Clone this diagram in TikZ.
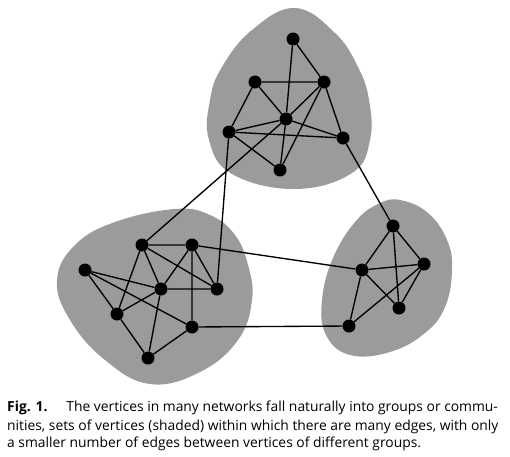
\documentclass[tikz,border=0pt]{standalone}
\usepackage{fontspec}
\newfontfamily\capfont{Open Sans}
\definecolor{blobgray}{RGB}{155,155,155}
\tikzset{
  vtx/.style={circle, fill=black, inner sep=0pt, minimum size=13pt},
  edge/.style={line width=1.35pt, black},
  blob/.style={fill=blobgray, draw=none},
  capline/.style={anchor=base west, inner sep=0pt, font=\capfont\fontsize{13.85}{18}\selectfont}
}
\begin{document}
\begin{tikzpicture}[x=1pt, y=-1pt]
\useasboundingbox (0,0) rectangle (510,456);
% blobs
\fill[blob] plot[smooth cycle, tension=0.7] coordinates {(295,8) (335,33) (358,67) (369,100) (370,140) (352,173) (295,189) (232,174) (209,140) (210,100) (222,67) (252,30)};
\fill[blob] plot[smooth cycle, tension=0.7] coordinates {(175,209) (210,215) (235,235) (248,265) (252,300) (238,340) (200,372) (150,384) (105,360) (70,320) (57,280) (75,245) (115,222)};
\fill[blob] plot[smooth cycle, tension=0.7] coordinates {(400,200) (428,213) (447,240) (452,270) (445,307) (425,333) (390,352) (350,355) (326,335) (322,300) (333,258) (355,222) (378,204)};
% top cluster
\node[vtx] (t1) at (293,39) {};
\node[vtx] (t2) at (255,82) {};
\node[vtx] (t3) at (324,82) {};
\node[vtx] (t4) at (286,119) {};
\node[vtx] (t5) at (229,132) {};
\node[vtx] (t6) at (343,138) {};
\node[vtx] (t7) at (280,170) {};
% left cluster
\node[vtx] (l1) at (142,245) {};
\node[vtx] (l2) at (192,245) {};
\node[vtx] (l3) at (85,270) {};
\node[vtx] (l4) at (161,289) {};
\node[vtx] (l5) at (217,289) {};
\node[vtx] (l6) at (117,314) {};
\node[vtx] (l7) at (192,327) {};
\node[vtx] (l8) at (148,358) {};
% right cluster
\node[vtx] (r1) at (393,226) {};
\node[vtx] (r2) at (362,270) {};
\node[vtx] (r3) at (424,264) {};
\node[vtx] (r4) at (399,308) {};
\node[vtx] (r5) at (349,326) {};
% edges
\draw[edge] (t1)--(t3) (t1)--(t4) (t2)--(t3) (t2)--(t5) (t2)--(t4) (t3)--(t4) (t3)--(t7) (t3)--(t6)
  (t5)--(t4) (t5)--(t6) (t5)--(t7) (t4)--(t6) (t4)--(t7);
\draw[edge] (l1)--(l2) (l1)--(l4) (l1)--(l5) (l1)--(l6) (l2)--(l4) (l2)--(l5) (l2)--(l7)
  (l3)--(l4) (l3)--(l6) (l3)--(l7) (l4)--(l5) (l4)--(l6) (l4)--(l8) (l6)--(l8) (l8)--(l7);
\draw[edge] (r1)--(r2) (r1)--(r3) (r1)--(r4) (r2)--(r3) (r2)--(r4) (r2)--(r5) (r3)--(r4) (r3)--(r5);
\draw[edge] (t5)--(l5) (t4)--(l1) (t6)--(r1) (l2)--(r2) (l7)--(r5);
% caption
\node[capline] (c1) at (7,411.7) {\textbf{Fig. 1.}\hspace{19pt}The vertices in many networks fall naturally into groups or commu-};
\node[capline] (c2) at (7,430) {nities, sets of vertices (shaded) within which there are many edges, with only};
\node[capline] (c3) at (7,447.7) {a smaller number of edges between vertices of different groups.};
\end{tikzpicture}
\end{document}
